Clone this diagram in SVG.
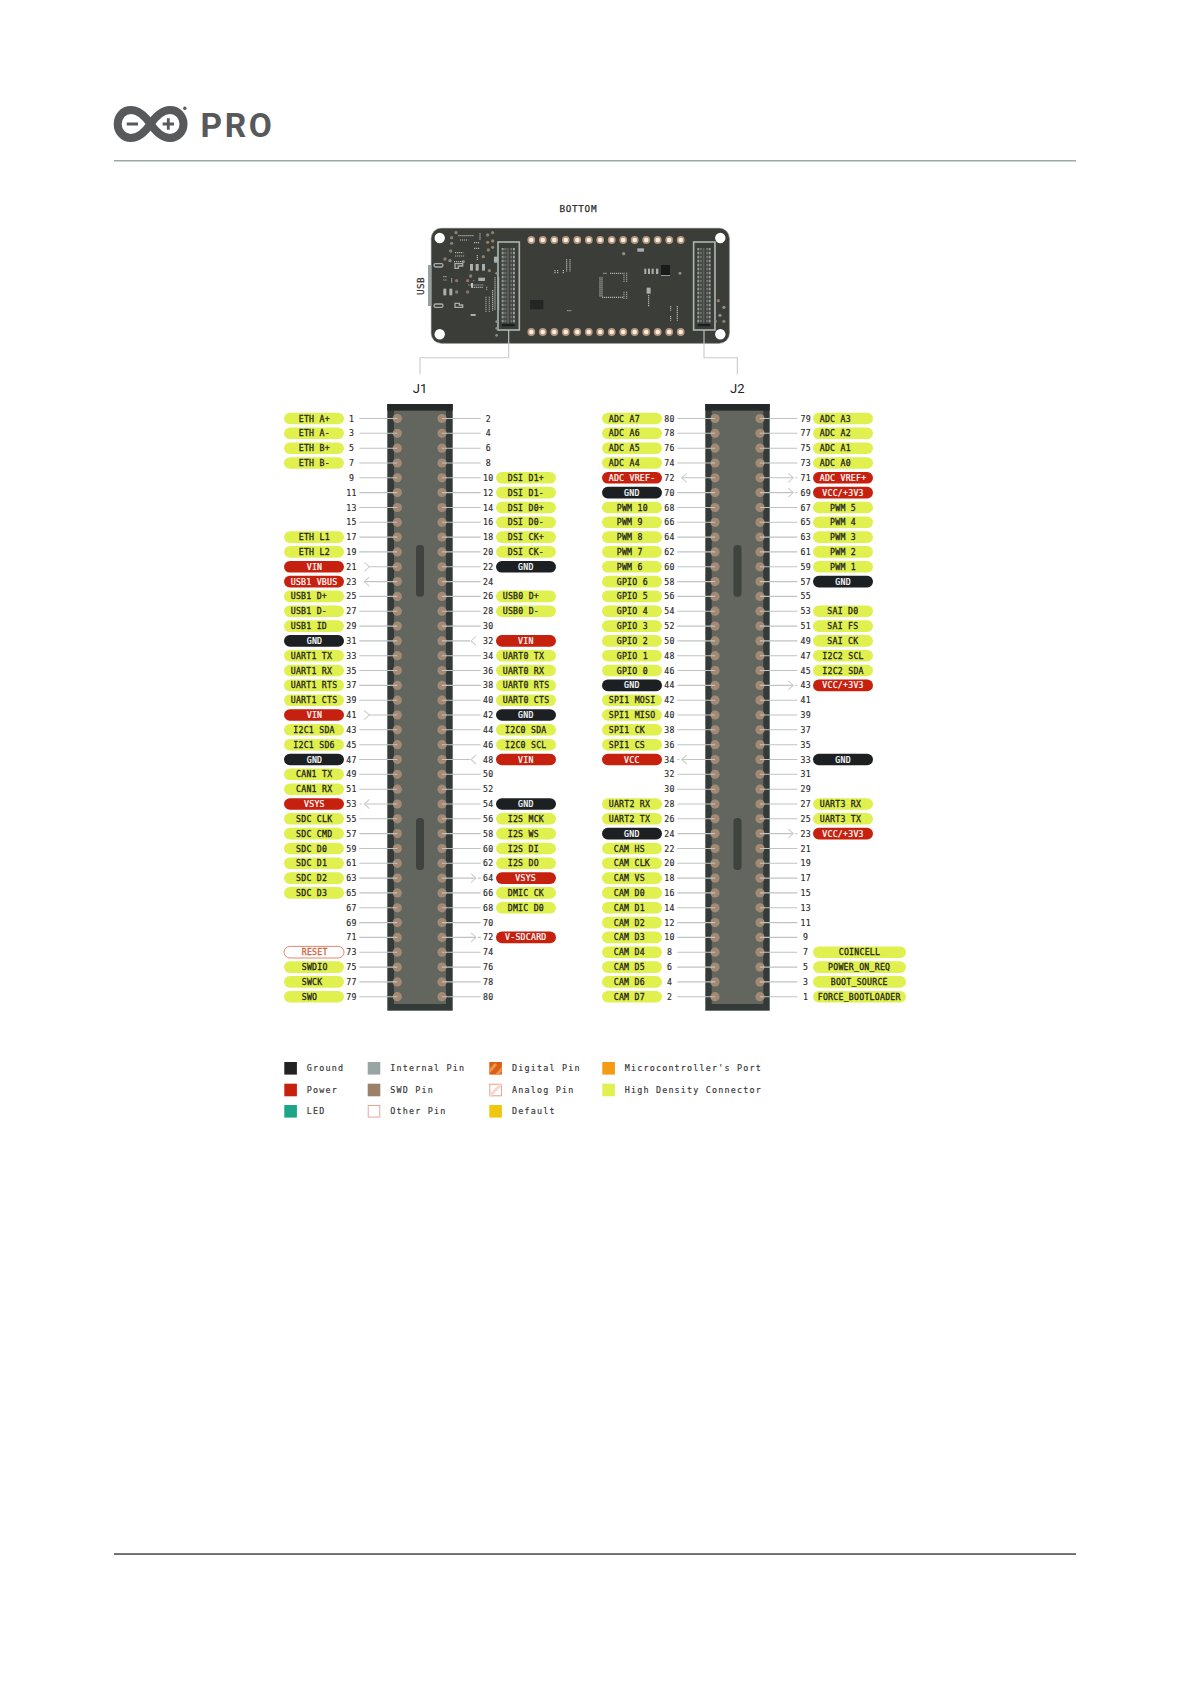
<svg xmlns="http://www.w3.org/2000/svg" width="1190" height="1684" viewBox="0 0 1190 1684">
<style>
text{font-family:"DejaVu Sans Mono","Liberation Mono",monospace}
.t,.n{font-size:8.2px;letter-spacing:.26px;font-weight:400;fill:#1f2322;stroke:#1f2322;stroke-width:.28px}
.n{text-anchor:middle;fill:#2a2a2a;stroke:#2a2a2a;stroke-width:.15px}
.t.w{fill:#fff;stroke:#fff;stroke-width:.22px}
.p{y:-5.8px;width:60px;height:11.6px;rx:5.8px}
.wide{width:93px}
.y{fill:#dff04f}.r{fill:#c6200e}.k{fill:#1c2023}
.o{fill:#fff;stroke:#d9694a;stroke-width:.8}
.pin{fill:#a48a74}
.l path{fill:none;stroke:#bfc3c1;stroke-width:1.1}
.l path.c{stroke:#cdd0ce}
.lg{font-size:8.4px;letter-spacing:1.2px;fill:#333;stroke:#333;stroke-width:.15px}
.via{fill:#8a7f6f}.gv{fill:#8b908b}
.d{fill:none;stroke:#b4b8b4;stroke-width:3.6}
</style>
<defs>
<g id="pc">
<circle cy="418.5" r="4.6"/><circle cy="433.3" r="4.6"/><circle cy="448.2" r="4.6"/><circle cy="463" r="4.6"/><circle cy="477.8" r="4.6"/><circle cy="492.6" r="4.6"/><circle cy="507.5" r="4.6"/><circle cy="522.3" r="4.6"/><circle cy="537.1" r="4.6"/><circle cy="551.9" r="4.6"/><circle cy="566.8" r="4.6"/><circle cy="581.6" r="4.6"/><circle cy="596.4" r="4.6"/><circle cy="611.2" r="4.6"/><circle cy="626.1" r="4.6"/><circle cy="640.9" r="4.6"/><circle cy="655.7" r="4.6"/><circle cy="670.5" r="4.6"/><circle cy="685.4" r="4.6"/><circle cy="700.2" r="4.6"/><circle cy="715" r="4.6"/><circle cy="729.8" r="4.6"/><circle cy="744.7" r="4.6"/><circle cy="759.5" r="4.6"/><circle cy="774.3" r="4.6"/><circle cy="789.2" r="4.6"/><circle cy="804" r="4.6"/><circle cy="818.8" r="4.6"/><circle cy="833.6" r="4.6"/><circle cy="848.5" r="4.6"/><circle cy="863.3" r="4.6"/><circle cy="878.1" r="4.6"/><circle cy="892.9" r="4.6"/><circle cy="907.8" r="4.6"/><circle cy="922.6" r="4.6"/><circle cy="937.4" r="4.6"/><circle cy="952.2" r="4.6"/><circle cy="967.1" r="4.6"/><circle cy="981.9" r="4.6"/><circle cy="996.7" r="4.6"/>
</g>
<g id="pad"><circle r="3.9" fill="#b7967c"/><circle r="2.3" fill="#f6ede2"/></g>
<g id="bc">
<rect x="-32" y="0" width="64" height="264" fill="#3a3d38" stroke="#a9b2ac" stroke-width="5"/>
<rect x="-22" y="14" width="43" height="240" fill="#3b3e3a"/>
<path d="M-18 18V246M16 18V246" fill="none" stroke="#b5b9b5" stroke-width="6" stroke-dasharray="2 2"/>
<path d="M-10 18V246M8 18V246" fill="none" stroke="#7e827e" stroke-width="6" stroke-dasharray="2 2"/>
<path d="M-2 18V246" fill="none" stroke="#60645f" stroke-width="5"/>
<rect x="-20" y="245" width="38" height="8" fill="#1c1f20"/>
</g>
<clipPath id="a1"><rect x="489.3" y="1062" width="12.6" height="12.6"/></clipPath>
<clipPath id="a2"><rect x="489.3" y="1083.7" width="12.6" height="12.6"/></clipPath>
</defs>

<g id="header">
<path id="logo-mark" d="M150.5 124C145 116 139 110 131 110C123 110 117.7 116.5 117.7 124C117.7 131.5 123 138 131 138C139 138 145 132 150.5 124C156 116 162 110 170 110C178 110 183.5 116.5 183.5 124C183.5 131.5 178 138 170 138C162 138 156 132 150.5 124Z" fill="none" stroke="#58595b" stroke-width="8"/>
<path d="M126.7 124H138M162.7 124H174M168.3 118.3V129.7" stroke="#58595b" stroke-width="2.8" fill="none"/>
<circle cx="184.8" cy="108.2" r="1.7" fill="#58595b"/>
<text x="200.5" y="137.3" style="font-family:Roboto,'Liberation Sans',sans-serif;font-size:33.5px;font-weight:700;letter-spacing:2.6px;fill:#58595b">PRO</text>
<rect x="114" y="160" width="962" height="1.5" fill="#9aaaa4"/>
</g>
<rect id="footer-line" x="114" y="1553.2" width="962" height="1.7" fill="#5a5d5c"/>

<text x="578.3" y="212" text-anchor="middle" style="font-size:9.3px;letter-spacing:.7px;fill:#2b2b2b;stroke:#2b2b2b;stroke-width:.25px">BOTTOM</text>

<g id="board">
<rect x="431.3" y="228.3" width="298" height="115" rx="10" fill="#3a3d38" stroke="#686c66" stroke-width=".6"/>
<rect x="428" y="265" width="3.4" height="41" fill="#98a19e"/>
<g fill="#fff"><circle cx="439.7" cy="238" r="5.2"/><circle cx="720.3" cy="238" r="5.2"/><circle cx="439.7" cy="334.3" r="5.2"/><circle cx="720.3" cy="334.3" r="5.2"/></g>
<use href="#pad" x="531.3" y="240"/><use href="#pad" x="542.8" y="240"/><use href="#pad" x="554.3" y="240"/><use href="#pad" x="565.8" y="240"/><use href="#pad" x="577.3" y="240"/><use href="#pad" x="588.8" y="240"/><use href="#pad" x="600.2" y="240"/><use href="#pad" x="611.7" y="240"/><use href="#pad" x="623.2" y="240"/><use href="#pad" x="634.7" y="240"/><use href="#pad" x="646.2" y="240"/><use href="#pad" x="657.7" y="240"/><use href="#pad" x="669.2" y="240"/><use href="#pad" x="680.7" y="240"/>
<use href="#pad" x="531.3" y="332"/><use href="#pad" x="542.8" y="332"/><use href="#pad" x="554.3" y="332"/><use href="#pad" x="565.8" y="332"/><use href="#pad" x="577.3" y="332"/><use href="#pad" x="588.8" y="332"/><use href="#pad" x="600.2" y="332"/><use href="#pad" x="611.7" y="332"/><use href="#pad" x="623.2" y="332"/><use href="#pad" x="634.7" y="332"/><use href="#pad" x="646.2" y="332"/><use href="#pad" x="657.7" y="332"/><use href="#pad" x="669.2" y="332"/><use href="#pad" x="680.7" y="332"/>
<g transform="translate(400 190) scale(.3333)">
<use href="#bc" x="326" y="156"/><use href="#bc" x="913" y="156"/>
<rect x="783" y="225" width="27" height="30" fill="#1a1c1c"/><rect x="783" y="255" width="27" height="3" fill="#999"/>
<rect x="390" y="330" width="40" height="28" fill="#232625"/>
<rect x="712" y="175" width="20" height="10" fill="#aab0ac"/>
<g fill="#aab0ac"><rect x="733" y="236" width="6" height="16"/><rect x="744" y="236" width="6" height="16"/><rect x="755" y="236" width="6" height="16"/><rect x="768" y="236" width="7" height="16"/>
<rect x="740" y="293" width="12" height="18"/><rect x="282" y="200" width="12" height="18"/>
<rect x="210" y="222" width="9" height="20"/><rect x="227" y="222" width="9" height="20"/><rect x="246" y="222" width="9" height="20"/>
<rect x="130" y="296" width="9" height="20"/><rect x="148" y="296" width="9" height="20"/><rect x="235" y="263" width="20" height="10"/><rect x="212" y="372" width="15" height="6"/></g>
<g class="gv"><circle cx="671" cy="191" r="5"/><circle cx="840" cy="250" r="4.5"/><circle cx="290" cy="436" r="4"/><circle cx="972" cy="352" r="5"/><circle cx="960" cy="376" r="5"/><circle cx="947" cy="394" r="4"/><circle cx="150" cy="212" r="5"/><circle cx="290" cy="250" r="4"/><circle cx="290" cy="395" r="4"/><circle cx="290" cy="415" r="4"/></g>
<g class="via"><circle cx="955" cy="332" r="5"/><circle cx="972" cy="394" r="5"/><circle cx="168" cy="128" r="5"/><circle cx="155" cy="143" r="5"/><circle cx="155" cy="160" r="5"/><circle cx="278" cy="128" r="5"/><circle cx="263" cy="135" r="5"/><circle cx="263" cy="157" r="5"/><circle cx="278" cy="153" r="5"/><circle cx="152" cy="183" r="5"/><circle cx="135" cy="207" r="5"/><circle cx="190" cy="215" r="5"/><circle cx="250" cy="200" r="5"/><circle cx="265" cy="180" r="5"/><circle cx="278" cy="172" r="5"/><circle cx="268" cy="242" r="5"/><circle cx="170" cy="272" r="5" fill="#94706a"/><circle cx="203" cy="272" r="5" fill="#94706a"/><circle cx="212" cy="258" r="5"/><circle cx="203" cy="306" r="5" fill="#94706a"/><circle cx="170" cy="306" r="5"/></g>
<g fill="none" stroke="#a9aeaa" stroke-width="4"><rect x="102" y="221" width="27" height="10" rx="5"/><rect x="102" y="342" width="27" height="10" rx="5"/><path d="M165 221H188V228H175V235H165Z"/><path d="M165 340V352H188V345H178V340Z"/></g>
<path class="d" d="M610 250H622M630 250H668M672 248V275M680 248V275M600 262V320M606 262V320M606 322H670M672 305V328M680 305V328M500 208V245M510 208V245M465 240V250M473 240V250M490 240V250M502 362H515M746 315V350M812 348V362M812 378V392M832 348V392" stroke-dasharray="3.5 2.5"/>
<path class="d" d="M175 137H222M240 130V150M180 150H205M165 188H190M165 198H195M130 260H142M130 270H142M155 265V278M222 158H240M222 175H240M232 195V210M162 215H192M220 272H222M205 285H250M215 292H250M260 290V300M258 320V365M268 320V365M278 300V362M285 262V360M296 262V360" stroke-dasharray="3.5 2.5"/>
<rect x="213" y="279" width="6" height="14" fill="#c3c7c3"/>
</g>
<text transform="translate(424 286) rotate(-90)" text-anchor="middle" style="font-size:9.3px;letter-spacing:.4px;fill:#333;stroke:#333;stroke-width:.25px">USB</text>
</g>

<g id="callouts" fill="none" stroke="#c6cbc9" stroke-width="1.1">
<path d="M508.7 330V357.7H420V374.3"/>
<path d="M704 330V357.7H737.3V374.3"/>
</g>
<text x="420" y="393" text-anchor="middle" style="font-family:Roboto,'Liberation Sans',sans-serif;font-size:13px;fill:#222">J1</text>
<text x="737.3" y="393" text-anchor="middle" style="font-family:Roboto,'Liberation Sans',sans-serif;font-size:13px;fill:#222">J2</text>

<g id="J1-body">
<rect x="387.3" y="404" width="65.4" height="606.7" fill="#343a37"/>
<rect x="387.3" y="404" width="65.4" height="6.7" fill="#252829"/>
<rect x="394" y="410.7" width="52" height="593.3" fill="#62665f"/>
<rect x="416" y="545" width="8" height="51.7" rx="3.5" fill="#3f4340"/>
<rect x="416" y="818" width="8" height="52" rx="3.5" fill="#3f4340"/>
<use href="#pc" x="397.3" class="pin"/><use href="#pc" x="442" class="pin"/>
</g>
<g id="J2-body">
<rect x="705.3" y="404" width="64.4" height="606.7" fill="#343a37"/>
<rect x="705.3" y="404" width="64.4" height="6.7" fill="#252829"/>
<rect x="711.7" y="410.7" width="51.6" height="593.3" fill="#62665f"/>
<rect x="733.5" y="545" width="8" height="51.7" rx="3.5" fill="#3f4340"/>
<rect x="733.5" y="818" width="8" height="52" rx="3.5" fill="#3f4340"/>
<use href="#pc" x="715" class="pin"/><use href="#pc" x="760" class="pin"/>
</g>

<g id="connectors" class="l">
<path d="M359.3 418.5H397.3M359.3 433.3H397.3M359.3 448.2H397.3M359.3 463H397.3M359.3 477.8H397.3M359.3 492.6H397.3M359.3 507.5H397.3M359.3 522.3H397.3M359.3 537.1H397.3M359.3 551.9H397.3M369.3 566.8H397.3M364.3 581.6H397.3M359.3 596.4H397.3M359.3 611.2H397.3M359.3 626.1H397.3M359.3 640.9H397.3M359.3 655.7H397.3M359.3 670.5H397.3M359.3 685.4H397.3M359.3 700.2H397.3M369.3 715H397.3M359.3 729.8H397.3M359.3 744.7H397.3M359.3 759.5H397.3M359.3 774.3H397.3M359.3 789.2H397.3M359.3 804H362M364.3 804H397.3M359.3 818.8H397.3M359.3 833.6H397.3M359.3 848.5H397.3M359.3 863.3H397.3M359.3 878.1H397.3M359.3 892.9H397.3M359.3 907.8H397.3M359.3 922.6H397.3M359.3 937.4H397.3M359.3 952.2H397.3M359.3 967.1H397.3M359.3 981.9H397.3M359.3 996.7H397.3"/>
<path d="M442 418.5H480.7M442 433.3H480.7M442 448.2H480.7M442 463H480.7M442 477.8H480.7M442 492.6H480.7M442 507.5H480.7M442 522.3H480.7M442 537.1H480.7M442 551.9H480.7M442 566.8H480.7M442 581.6H480.7M442 596.4H480.7M442 611.2H480.7M442 626.1H480.7M442 640.9H470M442 655.7H480.7M442 670.5H480.7M442 685.4H480.7M442 700.2H480.7M442 715H480.7M442 729.8H480.7M442 744.7H480.7M442 759.5H470M442 774.3H480.7M442 789.2H480.7M442 804H480.7M442 818.8H480.7M442 833.6H480.7M442 848.5H480.7M442 863.3H480.7M442 878.1H476M478 878.1H480.7M442 892.9H480.7M442 907.8H480.7M442 922.6H480.7M442 937.4H476M478 937.4H480.7M442 952.2H480.7M442 967.1H480.7M442 981.9H480.7M442 996.7H480.7"/>
<path d="M677.3 418.5H715M677.3 433.3H715M677.3 448.2H715M677.3 463H715M681.7 477.8H715M677.3 492.6H715M677.3 507.5H715M677.3 522.3H715M677.3 537.1H715M677.3 551.9H715M677.3 566.8H715M677.3 581.6H715M677.3 596.4H715M677.3 611.2H715M677.3 626.1H715M677.3 640.9H715M677.3 655.7H715M677.3 670.5H715M677.3 685.4H715M677.3 700.2H715M677.3 715H715M677.3 729.8H715M677.3 744.7H715M677.3 759.5H679.5M681.7 759.5H715M677.3 774.3H715M677.3 789.2H715M677.3 804H715M677.3 818.8H715M677.3 833.6H715M677.3 848.5H715M677.3 863.3H715M677.3 878.1H715M677.3 892.9H715M677.3 907.8H715M677.3 922.6H715M677.3 937.4H715M677.3 952.2H715M677.3 967.1H715M677.3 981.9H715M677.3 996.7H715"/>
<path d="M760 418.5H797.3M760 433.3H797.3M760 448.2H797.3M760 463H797.3M760 477.8H793.3M795.5 477.8H797.3M760 492.6H793.3M795.5 492.6H797.3M760 507.5H797.3M760 522.3H797.3M760 537.1H797.3M760 551.9H797.3M760 566.8H797.3M760 581.6H797.3M760 596.4H797.3M760 611.2H797.3M760 626.1H797.3M760 640.9H797.3M760 655.7H797.3M760 670.5H797.3M760 685.4H793.3M795.5 685.4H797.3M760 700.2H797.3M760 715H797.3M760 729.8H797.3M760 744.7H797.3M760 759.5H797.3M760 774.3H797.3M760 789.2H797.3M760 804H797.3M760 818.8H797.3M760 833.6H793.3M795.5 833.6H797.3M760 848.5H797.3M760 863.3H797.3M760 878.1H797.3M760 892.9H797.3M760 907.8H797.3M760 922.6H797.3M760 937.4H797.3M760 952.2H797.3M760 967.1H797.3M760 981.9H797.3M760 996.7H797.3"/>
<path class="c" d="M364.3 562.3L369.3 566.8L364.3 571.3M364.3 710.5L369.3 715L364.3 719.5M369.3 577.1L364.3 581.6L369.3 586.1M369.3 799.5L364.3 804L369.3 808.5M476 636.4L471 640.9L476 645.4M476 755L471 759.5L476 764M471 873.6L476 878.1L471 882.6M471 932.9L476 937.4L471 941.9M686.7 473.3L681.7 477.8L686.7 482.3M686.7 755L681.7 759.5L686.7 764M788.3 473.3L793.3 477.8L788.3 482.3M788.3 488.1L793.3 492.6L788.3 497.1M788.3 680.9L793.3 685.4L788.3 689.9M788.3 829.1L793.3 833.6L788.3 838.1"/>
</g>

<g id="J1-left">
<g id="j1-1" transform="translate(0 418.5)"><rect class="p y" x="284"/><text class="t" x="298.7" y="3">ETH A+</text><text class="n" x="351.5" y="3">1</text></g>
<g id="j1-3" transform="translate(0 433.3)"><rect class="p y" x="284"/><text class="t" x="298.7" y="3">ETH A-</text><text class="n" x="351.5" y="3">3</text></g>
<g id="j1-5" transform="translate(0 448.2)"><rect class="p y" x="284"/><text class="t" x="298.7" y="3">ETH B+</text><text class="n" x="351.5" y="3">5</text></g>
<g id="j1-7" transform="translate(0 463)"><rect class="p y" x="284"/><text class="t" x="298.7" y="3">ETH B-</text><text class="n" x="351.5" y="3">7</text></g>
<g id="j1-9" transform="translate(0 477.8)"><text class="n" x="351.5" y="3">9</text></g>
<g id="j1-11" transform="translate(0 492.6)"><text class="n" x="351.5" y="3">11</text></g>
<g id="j1-13" transform="translate(0 507.5)"><text class="n" x="351.5" y="3">13</text></g>
<g id="j1-15" transform="translate(0 522.3)"><text class="n" x="351.5" y="3">15</text></g>
<g id="j1-17" transform="translate(0 537.1)"><rect class="p y" x="284"/><text class="t" x="298.7" y="3">ETH L1</text><text class="n" x="351.5" y="3">17</text></g>
<g id="j1-19" transform="translate(0 551.9)"><rect class="p y" x="284"/><text class="t" x="298.7" y="3">ETH L2</text><text class="n" x="351.5" y="3">19</text></g>
<g id="j1-21" transform="translate(0 566.8)"><rect class="p r" x="284"/><text class="t w" x="306.7" y="3">VIN</text><text class="n" x="351.5" y="3">21</text></g>
<g id="j1-23" transform="translate(0 581.6)"><rect class="p r" x="284"/><text class="t w" x="290.7" y="3">USB1 VBUS</text><text class="n" x="351.5" y="3">23</text></g>
<g id="j1-25" transform="translate(0 596.4)"><rect class="p y" x="284"/><text class="t" x="290.7" y="3">USB1 D+</text><text class="n" x="351.5" y="3">25</text></g>
<g id="j1-27" transform="translate(0 611.2)"><rect class="p y" x="284"/><text class="t" x="290.7" y="3">USB1 D-</text><text class="n" x="351.5" y="3">27</text></g>
<g id="j1-29" transform="translate(0 626.1)"><rect class="p y" x="284"/><text class="t" x="290.7" y="3">USB1 ID</text><text class="n" x="351.5" y="3">29</text></g>
<g id="j1-31" transform="translate(0 640.9)"><rect class="p k" x="284"/><text class="t w" x="306.7" y="3">GND</text><text class="n" x="351.5" y="3">31</text></g>
<g id="j1-33" transform="translate(0 655.7)"><rect class="p y" x="284"/><text class="t" x="290.7" y="3">UART1 TX</text><text class="n" x="351.5" y="3">33</text></g>
<g id="j1-35" transform="translate(0 670.5)"><rect class="p y" x="284"/><text class="t" x="290.7" y="3">UART1 RX</text><text class="n" x="351.5" y="3">35</text></g>
<g id="j1-37" transform="translate(0 685.4)"><rect class="p y" x="284"/><text class="t" x="290.7" y="3">UART1 RTS</text><text class="n" x="351.5" y="3">37</text></g>
<g id="j1-39" transform="translate(0 700.2)"><rect class="p y" x="284"/><text class="t" x="290.7" y="3">UART1 CTS</text><text class="n" x="351.5" y="3">39</text></g>
<g id="j1-41" transform="translate(0 715)"><rect class="p r" x="284"/><text class="t w" x="306.7" y="3">VIN</text><text class="n" x="351.5" y="3">41</text></g>
<g id="j1-43" transform="translate(0 729.8)"><rect class="p y" x="284"/><text class="t" x="293.3" y="3">I2C1 SDA</text><text class="n" x="351.5" y="3">43</text></g>
<g id="j1-45" transform="translate(0 744.7)"><rect class="p y" x="284"/><text class="t" x="293.3" y="3">I2C1 SD6</text><text class="n" x="351.5" y="3">45</text></g>
<g id="j1-47" transform="translate(0 759.5)"><rect class="p k" x="284"/><text class="t w" x="306.7" y="3">GND</text><text class="n" x="351.5" y="3">47</text></g>
<g id="j1-49" transform="translate(0 774.3)"><rect class="p y" x="284"/><text class="t" x="296" y="3">CAN1 TX</text><text class="n" x="351.5" y="3">49</text></g>
<g id="j1-51" transform="translate(0 789.2)"><rect class="p y" x="284"/><text class="t" x="296" y="3">CAN1 RX</text><text class="n" x="351.5" y="3">51</text></g>
<g id="j1-53" transform="translate(0 804)"><rect class="p r" x="284"/><text class="t w" x="304" y="3">VSYS</text><text class="n" x="351.5" y="3">53</text></g>
<g id="j1-55" transform="translate(0 818.8)"><rect class="p y" x="284"/><text class="t" x="296" y="3">SDC CLK</text><text class="n" x="351.5" y="3">55</text></g>
<g id="j1-57" transform="translate(0 833.6)"><rect class="p y" x="284"/><text class="t" x="296" y="3">SDC CMD</text><text class="n" x="351.5" y="3">57</text></g>
<g id="j1-59" transform="translate(0 848.5)"><rect class="p y" x="284"/><text class="t" x="296" y="3">SDC D0</text><text class="n" x="351.5" y="3">59</text></g>
<g id="j1-61" transform="translate(0 863.3)"><rect class="p y" x="284"/><text class="t" x="296" y="3">SDC D1</text><text class="n" x="351.5" y="3">61</text></g>
<g id="j1-63" transform="translate(0 878.1)"><rect class="p y" x="284"/><text class="t" x="296" y="3">SDC D2</text><text class="n" x="351.5" y="3">63</text></g>
<g id="j1-65" transform="translate(0 892.9)"><rect class="p y" x="284"/><text class="t" x="296" y="3">SDC D3</text><text class="n" x="351.5" y="3">65</text></g>
<g id="j1-67" transform="translate(0 907.8)"><text class="n" x="351.5" y="3">67</text></g>
<g id="j1-69" transform="translate(0 922.6)"><text class="n" x="351.5" y="3">69</text></g>
<g id="j1-71" transform="translate(0 937.4)"><text class="n" x="351.5" y="3">71</text></g>
<g id="j1-73" transform="translate(0 952.2)"><rect class="p o" x="284"/><text class="t" style="fill:#d0603c;stroke:#d0603c" x="301.7" y="3">RESET</text><text class="n" x="351.5" y="3">73</text></g>
<g id="j1-75" transform="translate(0 967.1)"><rect class="p y" x="284"/><text class="t" x="301.7" y="3">SWDIO</text><text class="n" x="351.5" y="3">75</text></g>
<g id="j1-77" transform="translate(0 981.9)"><rect class="p y" x="284"/><text class="t" x="301.7" y="3">SWCK</text><text class="n" x="351.5" y="3">77</text></g>
<g id="j1-79" transform="translate(0 996.7)"><rect class="p y" x="284"/><text class="t" x="301.7" y="3">SWO</text><text class="n" x="351.5" y="3">79</text></g>
</g>

<g id="J1-right">
<g id="j1-2" transform="translate(0 418.5)"><text class="n" x="488.3" y="3">2</text></g>
<g id="j1-4" transform="translate(0 433.3)"><text class="n" x="488.3" y="3">4</text></g>
<g id="j1-6" transform="translate(0 448.2)"><text class="n" x="488.3" y="3">6</text></g>
<g id="j1-8" transform="translate(0 463)"><text class="n" x="488.3" y="3">8</text></g>
<g id="j1-10" transform="translate(0 477.8)"><rect class="p y" x="496"/><text class="t" x="507.7" y="3">DSI D1+</text><text class="n" x="488.3" y="3">10</text></g>
<g id="j1-12" transform="translate(0 492.6)"><rect class="p y" x="496"/><text class="t" x="507.7" y="3">DSI D1-</text><text class="n" x="488.3" y="3">12</text></g>
<g id="j1-14" transform="translate(0 507.5)"><rect class="p y" x="496"/><text class="t" x="507.7" y="3">DSI D0+</text><text class="n" x="488.3" y="3">14</text></g>
<g id="j1-16" transform="translate(0 522.3)"><rect class="p y" x="496"/><text class="t" x="507.7" y="3">DSI D0-</text><text class="n" x="488.3" y="3">16</text></g>
<g id="j1-18" transform="translate(0 537.1)"><rect class="p y" x="496"/><text class="t" x="507.7" y="3">DSI CK+</text><text class="n" x="488.3" y="3">18</text></g>
<g id="j1-20" transform="translate(0 551.9)"><rect class="p y" x="496"/><text class="t" x="507.7" y="3">DSI CK-</text><text class="n" x="488.3" y="3">20</text></g>
<g id="j1-22" transform="translate(0 566.8)"><rect class="p k" x="496"/><text class="t w" x="518" y="3">GND</text><text class="n" x="488.3" y="3">22</text></g>
<g id="j1-24" transform="translate(0 581.6)"><text class="n" x="488.3" y="3">24</text></g>
<g id="j1-26" transform="translate(0 596.4)"><rect class="p y" x="496"/><text class="t" x="502.7" y="3">USB0 D+</text><text class="n" x="488.3" y="3">26</text></g>
<g id="j1-28" transform="translate(0 611.2)"><rect class="p y" x="496"/><text class="t" x="502.7" y="3">USB0 D-</text><text class="n" x="488.3" y="3">28</text></g>
<g id="j1-30" transform="translate(0 626.1)"><text class="n" x="488.3" y="3">30</text></g>
<g id="j1-32" transform="translate(0 640.9)"><rect class="p r" x="496"/><text class="t w" x="518" y="3">VIN</text><text class="n" x="488.3" y="3">32</text></g>
<g id="j1-34" transform="translate(0 655.7)"><rect class="p y" x="496"/><text class="t" x="502.7" y="3">UART0 TX</text><text class="n" x="488.3" y="3">34</text></g>
<g id="j1-36" transform="translate(0 670.5)"><rect class="p y" x="496"/><text class="t" x="502.7" y="3">UART0 RX</text><text class="n" x="488.3" y="3">36</text></g>
<g id="j1-38" transform="translate(0 685.4)"><rect class="p y" x="496"/><text class="t" x="502.7" y="3">UART0 RTS</text><text class="n" x="488.3" y="3">38</text></g>
<g id="j1-40" transform="translate(0 700.2)"><rect class="p y" x="496"/><text class="t" x="502.7" y="3">UART0 CTS</text><text class="n" x="488.3" y="3">40</text></g>
<g id="j1-42" transform="translate(0 715)"><rect class="p k" x="496"/><text class="t w" x="518" y="3">GND</text><text class="n" x="488.3" y="3">42</text></g>
<g id="j1-44" transform="translate(0 729.8)"><rect class="p y" x="496"/><text class="t" x="505" y="3">I2C0 SDA</text><text class="n" x="488.3" y="3">44</text></g>
<g id="j1-46" transform="translate(0 744.7)"><rect class="p y" x="496"/><text class="t" x="505" y="3">I2C0 SCL</text><text class="n" x="488.3" y="3">46</text></g>
<g id="j1-48" transform="translate(0 759.5)"><rect class="p r" x="496"/><text class="t w" x="518" y="3">VIN</text><text class="n" x="488.3" y="3">48</text></g>
<g id="j1-50" transform="translate(0 774.3)"><text class="n" x="488.3" y="3">50</text></g>
<g id="j1-52" transform="translate(0 789.2)"><text class="n" x="488.3" y="3">52</text></g>
<g id="j1-54" transform="translate(0 804)"><rect class="p k" x="496"/><text class="t w" x="518" y="3">GND</text><text class="n" x="488.3" y="3">54</text></g>
<g id="j1-56" transform="translate(0 818.8)"><rect class="p y" x="496"/><text class="t" x="507.7" y="3">I2S MCK</text><text class="n" x="488.3" y="3">56</text></g>
<g id="j1-58" transform="translate(0 833.6)"><rect class="p y" x="496"/><text class="t" x="507.7" y="3">I2S WS</text><text class="n" x="488.3" y="3">58</text></g>
<g id="j1-60" transform="translate(0 848.5)"><rect class="p y" x="496"/><text class="t" x="507.7" y="3">I2S DI</text><text class="n" x="488.3" y="3">60</text></g>
<g id="j1-62" transform="translate(0 863.3)"><rect class="p y" x="496"/><text class="t" x="507.7" y="3">I2S DO</text><text class="n" x="488.3" y="3">62</text></g>
<g id="j1-64" transform="translate(0 878.1)"><rect class="p r" x="496"/><text class="t w" x="515.3" y="3">VSYS</text><text class="n" x="488.3" y="3">64</text></g>
<g id="j1-66" transform="translate(0 892.9)"><rect class="p y" x="496"/><text class="t" x="507.7" y="3">DMIC CK</text><text class="n" x="488.3" y="3">66</text></g>
<g id="j1-68" transform="translate(0 907.8)"><rect class="p y" x="496"/><text class="t" x="507.7" y="3">DMIC D0</text><text class="n" x="488.3" y="3">68</text></g>
<g id="j1-70" transform="translate(0 922.6)"><text class="n" x="488.3" y="3">70</text></g>
<g id="j1-72" transform="translate(0 937.4)"><rect class="p r" x="496"/><text class="t w" x="505" y="3">V-SDCARD</text><text class="n" x="488.3" y="3">72</text></g>
<g id="j1-74" transform="translate(0 952.2)"><text class="n" x="488.3" y="3">74</text></g>
<g id="j1-76" transform="translate(0 967.1)"><text class="n" x="488.3" y="3">76</text></g>
<g id="j1-78" transform="translate(0 981.9)"><text class="n" x="488.3" y="3">78</text></g>
<g id="j1-80" transform="translate(0 996.7)"><text class="n" x="488.3" y="3">80</text></g>
</g>

<g id="J2-left">
<g id="j2-80" transform="translate(0 418.5)"><rect class="p y" x="602"/><text class="t" x="608.7" y="3">ADC A7</text><text class="n" x="669.5" y="3">80</text></g>
<g id="j2-78" transform="translate(0 433.3)"><rect class="p y" x="602"/><text class="t" x="608.7" y="3">ADC A6</text><text class="n" x="669.5" y="3">78</text></g>
<g id="j2-76" transform="translate(0 448.2)"><rect class="p y" x="602"/><text class="t" x="608.7" y="3">ADC A5</text><text class="n" x="669.5" y="3">76</text></g>
<g id="j2-74" transform="translate(0 463)"><rect class="p y" x="602"/><text class="t" x="608.7" y="3">ADC A4</text><text class="n" x="669.5" y="3">74</text></g>
<g id="j2-72" transform="translate(0 477.8)"><rect class="p r" x="602"/><text class="t w" x="608.7" y="3">ADC VREF-</text><text class="n" x="669.5" y="3">72</text></g>
<g id="j2-70" transform="translate(0 492.6)"><rect class="p k" x="602"/><text class="t w" x="624" y="3">GND</text><text class="n" x="669.5" y="3">70</text></g>
<g id="j2-68" transform="translate(0 507.5)"><rect class="p y" x="602"/><text class="t" x="616.7" y="3">PWM 10</text><text class="n" x="669.5" y="3">68</text></g>
<g id="j2-66" transform="translate(0 522.3)"><rect class="p y" x="602"/><text class="t" x="616.7" y="3">PWM 9</text><text class="n" x="669.5" y="3">66</text></g>
<g id="j2-64" transform="translate(0 537.1)"><rect class="p y" x="602"/><text class="t" x="616.7" y="3">PWM 8</text><text class="n" x="669.5" y="3">64</text></g>
<g id="j2-62" transform="translate(0 551.9)"><rect class="p y" x="602"/><text class="t" x="616.7" y="3">PWM 7</text><text class="n" x="669.5" y="3">62</text></g>
<g id="j2-60" transform="translate(0 566.8)"><rect class="p y" x="602"/><text class="t" x="616.7" y="3">PWM 6</text><text class="n" x="669.5" y="3">60</text></g>
<g id="j2-58" transform="translate(0 581.6)"><rect class="p y" x="602"/><text class="t" x="616.7" y="3">GPIO 6</text><text class="n" x="669.5" y="3">58</text></g>
<g id="j2-56" transform="translate(0 596.4)"><rect class="p y" x="602"/><text class="t" x="616.7" y="3">GPIO 5</text><text class="n" x="669.5" y="3">56</text></g>
<g id="j2-54" transform="translate(0 611.2)"><rect class="p y" x="602"/><text class="t" x="616.7" y="3">GPIO 4</text><text class="n" x="669.5" y="3">54</text></g>
<g id="j2-52" transform="translate(0 626.1)"><rect class="p y" x="602"/><text class="t" x="616.7" y="3">GPIO 3</text><text class="n" x="669.5" y="3">52</text></g>
<g id="j2-50" transform="translate(0 640.9)"><rect class="p y" x="602"/><text class="t" x="616.7" y="3">GPIO 2</text><text class="n" x="669.5" y="3">50</text></g>
<g id="j2-48" transform="translate(0 655.7)"><rect class="p y" x="602"/><text class="t" x="616.7" y="3">GPIO 1</text><text class="n" x="669.5" y="3">48</text></g>
<g id="j2-46" transform="translate(0 670.5)"><rect class="p y" x="602"/><text class="t" x="616.7" y="3">GPIO 0</text><text class="n" x="669.5" y="3">46</text></g>
<g id="j2-44" transform="translate(0 685.4)"><rect class="p k" x="602"/><text class="t w" x="624" y="3">GND</text><text class="n" x="669.5" y="3">44</text></g>
<g id="j2-42" transform="translate(0 700.2)"><rect class="p y" x="602"/><text class="t" x="608.7" y="3">SPI1 MOSI</text><text class="n" x="669.5" y="3">42</text></g>
<g id="j2-40" transform="translate(0 715)"><rect class="p y" x="602"/><text class="t" x="608.7" y="3">SPI1 MISO</text><text class="n" x="669.5" y="3">40</text></g>
<g id="j2-38" transform="translate(0 729.8)"><rect class="p y" x="602"/><text class="t" x="608.7" y="3">SPI1 CK</text><text class="n" x="669.5" y="3">38</text></g>
<g id="j2-36" transform="translate(0 744.7)"><rect class="p y" x="602"/><text class="t" x="608.7" y="3">SPI1 CS</text><text class="n" x="669.5" y="3">36</text></g>
<g id="j2-34" transform="translate(0 759.5)"><rect class="p r" x="602"/><text class="t w" x="624" y="3">VCC</text><text class="n" x="669.5" y="3">34</text></g>
<g id="j2-32" transform="translate(0 774.3)"><text class="n" x="669.5" y="3">32</text></g>
<g id="j2-30" transform="translate(0 789.2)"><text class="n" x="669.5" y="3">30</text></g>
<g id="j2-28" transform="translate(0 804)"><rect class="p y" x="602"/><text class="t" x="608.7" y="3">UART2 RX</text><text class="n" x="669.5" y="3">28</text></g>
<g id="j2-26" transform="translate(0 818.8)"><rect class="p y" x="602"/><text class="t" x="608.7" y="3">UART2 TX</text><text class="n" x="669.5" y="3">26</text></g>
<g id="j2-24" transform="translate(0 833.6)"><rect class="p k" x="602"/><text class="t w" x="624" y="3">GND</text><text class="n" x="669.5" y="3">24</text></g>
<g id="j2-22" transform="translate(0 848.5)"><rect class="p y" x="602"/><text class="t" x="613.7" y="3">CAM HS</text><text class="n" x="669.5" y="3">22</text></g>
<g id="j2-20" transform="translate(0 863.3)"><rect class="p y" x="602"/><text class="t" x="613.7" y="3">CAM CLK</text><text class="n" x="669.5" y="3">20</text></g>
<g id="j2-18" transform="translate(0 878.1)"><rect class="p y" x="602"/><text class="t" x="613.7" y="3">CAM VS</text><text class="n" x="669.5" y="3">18</text></g>
<g id="j2-16" transform="translate(0 892.9)"><rect class="p y" x="602"/><text class="t" x="613.7" y="3">CAM D0</text><text class="n" x="669.5" y="3">16</text></g>
<g id="j2-14" transform="translate(0 907.8)"><rect class="p y" x="602"/><text class="t" x="613.7" y="3">CAM D1</text><text class="n" x="669.5" y="3">14</text></g>
<g id="j2-12" transform="translate(0 922.6)"><rect class="p y" x="602"/><text class="t" x="613.7" y="3">CAM D2</text><text class="n" x="669.5" y="3">12</text></g>
<g id="j2-10" transform="translate(0 937.4)"><rect class="p y" x="602"/><text class="t" x="613.7" y="3">CAM D3</text><text class="n" x="669.5" y="3">10</text></g>
<g id="j2-8" transform="translate(0 952.2)"><rect class="p y" x="602"/><text class="t" x="613.7" y="3">CAM D4</text><text class="n" x="669.5" y="3">8</text></g>
<g id="j2-6" transform="translate(0 967.1)"><rect class="p y" x="602"/><text class="t" x="613.7" y="3">CAM D5</text><text class="n" x="669.5" y="3">6</text></g>
<g id="j2-4" transform="translate(0 981.9)"><rect class="p y" x="602"/><text class="t" x="613.7" y="3">CAM D6</text><text class="n" x="669.5" y="3">4</text></g>
<g id="j2-2" transform="translate(0 996.7)"><rect class="p y" x="602"/><text class="t" x="613.7" y="3">CAM D7</text><text class="n" x="669.5" y="3">2</text></g>
</g>

<g id="J2-right">
<g id="j2-79" transform="translate(0 418.5)"><rect class="p y" x="813"/><text class="t" x="819.7" y="3">ADC A3</text><text class="n" x="805.7" y="3">79</text></g>
<g id="j2-77" transform="translate(0 433.3)"><rect class="p y" x="813"/><text class="t" x="819.7" y="3">ADC A2</text><text class="n" x="805.7" y="3">77</text></g>
<g id="j2-75" transform="translate(0 448.2)"><rect class="p y" x="813"/><text class="t" x="819.7" y="3">ADC A1</text><text class="n" x="805.7" y="3">75</text></g>
<g id="j2-73" transform="translate(0 463)"><rect class="p y" x="813"/><text class="t" x="819.7" y="3">ADC A0</text><text class="n" x="805.7" y="3">73</text></g>
<g id="j2-71" transform="translate(0 477.8)"><rect class="p r" x="813"/><text class="t w" x="819.7" y="3">ADC VREF+</text><text class="n" x="805.7" y="3">71</text></g>
<g id="j2-69" transform="translate(0 492.6)"><rect class="p r" x="813"/><text class="t w" x="822.3" y="3">VCC/+3V3</text><text class="n" x="805.7" y="3">69</text></g>
<g id="j2-67" transform="translate(0 507.5)"><rect class="p y" x="813"/><text class="t" x="830" y="3">PWM 5</text><text class="n" x="805.7" y="3">67</text></g>
<g id="j2-65" transform="translate(0 522.3)"><rect class="p y" x="813"/><text class="t" x="830" y="3">PWM 4</text><text class="n" x="805.7" y="3">65</text></g>
<g id="j2-63" transform="translate(0 537.1)"><rect class="p y" x="813"/><text class="t" x="830" y="3">PWM 3</text><text class="n" x="805.7" y="3">63</text></g>
<g id="j2-61" transform="translate(0 551.9)"><rect class="p y" x="813"/><text class="t" x="830" y="3">PWM 2</text><text class="n" x="805.7" y="3">61</text></g>
<g id="j2-59" transform="translate(0 566.8)"><rect class="p y" x="813"/><text class="t" x="830" y="3">PWM 1</text><text class="n" x="805.7" y="3">59</text></g>
<g id="j2-57" transform="translate(0 581.6)"><rect class="p k" x="813"/><text class="t w" x="835.3" y="3">GND</text><text class="n" x="805.7" y="3">57</text></g>
<g id="j2-55" transform="translate(0 596.4)"><text class="n" x="805.7" y="3">55</text></g>
<g id="j2-53" transform="translate(0 611.2)"><rect class="p y" x="813"/><text class="t" x="827.3" y="3">SAI D0</text><text class="n" x="805.7" y="3">53</text></g>
<g id="j2-51" transform="translate(0 626.1)"><rect class="p y" x="813"/><text class="t" x="827.3" y="3">SAI FS</text><text class="n" x="805.7" y="3">51</text></g>
<g id="j2-49" transform="translate(0 640.9)"><rect class="p y" x="813"/><text class="t" x="827.3" y="3">SAI CK</text><text class="n" x="805.7" y="3">49</text></g>
<g id="j2-47" transform="translate(0 655.7)"><rect class="p y" x="813"/><text class="t" x="822.3" y="3">I2C2 SCL</text><text class="n" x="805.7" y="3">47</text></g>
<g id="j2-45" transform="translate(0 670.5)"><rect class="p y" x="813"/><text class="t" x="822.3" y="3">I2C2 SDA</text><text class="n" x="805.7" y="3">45</text></g>
<g id="j2-43" transform="translate(0 685.4)"><rect class="p r" x="813"/><text class="t w" x="822.3" y="3">VCC/+3V3</text><text class="n" x="805.7" y="3">43</text></g>
<g id="j2-41" transform="translate(0 700.2)"><text class="n" x="805.7" y="3">41</text></g>
<g id="j2-39" transform="translate(0 715)"><text class="n" x="805.7" y="3">39</text></g>
<g id="j2-37" transform="translate(0 729.8)"><text class="n" x="805.7" y="3">37</text></g>
<g id="j2-35" transform="translate(0 744.7)"><text class="n" x="805.7" y="3">35</text></g>
<g id="j2-33" transform="translate(0 759.5)"><rect class="p k" x="813"/><text class="t w" x="835.3" y="3">GND</text><text class="n" x="805.7" y="3">33</text></g>
<g id="j2-31" transform="translate(0 774.3)"><text class="n" x="805.7" y="3">31</text></g>
<g id="j2-29" transform="translate(0 789.2)"><text class="n" x="805.7" y="3">29</text></g>
<g id="j2-27" transform="translate(0 804)"><rect class="p y" x="813"/><text class="t" x="819.7" y="3">UART3 RX</text><text class="n" x="805.7" y="3">27</text></g>
<g id="j2-25" transform="translate(0 818.8)"><rect class="p y" x="813"/><text class="t" x="819.7" y="3">UART3 TX</text><text class="n" x="805.7" y="3">25</text></g>
<g id="j2-23" transform="translate(0 833.6)"><rect class="p r" x="813"/><text class="t w" x="822.3" y="3">VCC/+3V3</text><text class="n" x="805.7" y="3">23</text></g>
<g id="j2-21" transform="translate(0 848.5)"><text class="n" x="805.7" y="3">21</text></g>
<g id="j2-19" transform="translate(0 863.3)"><text class="n" x="805.7" y="3">19</text></g>
<g id="j2-17" transform="translate(0 878.1)"><text class="n" x="805.7" y="3">17</text></g>
<g id="j2-15" transform="translate(0 892.9)"><text class="n" x="805.7" y="3">15</text></g>
<g id="j2-13" transform="translate(0 907.8)"><text class="n" x="805.7" y="3">13</text></g>
<g id="j2-11" transform="translate(0 922.6)"><text class="n" x="805.7" y="3">11</text></g>
<g id="j2-9" transform="translate(0 937.4)"><text class="n" x="805.7" y="3">9</text></g>
<g id="j2-7" transform="translate(0 952.2)"><rect class="p y wide" x="813"/><text class="t" x="838.7" y="3">COINCELL</text><text class="n" x="805.7" y="3">7</text></g>
<g id="j2-5" transform="translate(0 967.1)"><rect class="p y wide" x="813"/><text class="t" x="828" y="3">POWER_ON_REQ</text><text class="n" x="805.7" y="3">5</text></g>
<g id="j2-3" transform="translate(0 981.9)"><rect class="p y wide" x="813"/><text class="t" x="830.7" y="3">BOOT_SOURCE</text><text class="n" x="805.7" y="3">3</text></g>
<g id="j2-1" transform="translate(0 996.7)"><rect class="p y wide" x="813"/><text class="t" x="817.7" y="3">FORCE_BOOTLOADER</text><text class="n" x="805.7" y="3">1</text></g>
</g>

<g id="legend">
<g id="lg-ground"><rect x="284.3" y="1062" width="12.6" height="12.6" fill="#222"/><text class="lg" x="306.7" y="1071">Ground</text></g>
<g id="lg-power"><rect x="284.3" y="1083.7" width="12.6" height="12.6" fill="#c6200e"/><text class="lg" x="306.7" y="1092.7">Power</text></g>
<g id="lg-led"><rect x="284.3" y="1105" width="12.6" height="12.6" fill="#1ca687"/><text class="lg" x="306.7" y="1114">LED</text></g>
<g id="lg-internal"><rect x="367.7" y="1062" width="12.6" height="12.6" fill="#98a5a3"/><text class="lg" x="390.3" y="1071">Internal Pin</text></g>
<g id="lg-swd"><rect x="367.7" y="1083.7" width="12.6" height="12.6" fill="#9c8168"/><text class="lg" x="390.3" y="1092.7">SWD Pin</text></g>
<g id="lg-other"><rect x="368.2" y="1105.5" width="11.6" height="11.6" fill="#fff" stroke="#e3a896"/><text class="lg" x="390.3" y="1114">Other Pin</text></g>
<g id="lg-digital"><rect x="489.3" y="1062" width="12.6" height="12.6" fill="#dc5f14"/><path clip-path="url(#a1)" d="M487 1074L496 1064M494 1078L503 1068" stroke="#ea9650" stroke-width="3"/><text class="lg" x="512" y="1071">Digital Pin</text></g>
<g id="lg-analog"><rect x="489.8" y="1084.2" width="11.6" height="11.6" fill="#fff" stroke="#e3a08c"/><path clip-path="url(#a2)" d="M490 1096L501 1084" stroke="#f6d8cc" stroke-width="3"/><text class="lg" x="512" y="1092.7">Analog Pin</text></g>
<g id="lg-default"><rect x="489.3" y="1105" width="12.6" height="12.6" fill="#f0c70f"/><text class="lg" x="512" y="1114">Default</text></g>
<g id="lg-mcu"><rect x="602.3" y="1062" width="12.6" height="12.6" fill="#f39c12"/><text class="lg" x="624.7" y="1071">Microcontroller's Port</text></g>
<g id="lg-hd"><rect x="602.3" y="1083.7" width="12.6" height="12.6" fill="#dff04f"/><text class="lg" x="624.7" y="1092.7">High Density Connector</text></g>
</g>
</svg>
